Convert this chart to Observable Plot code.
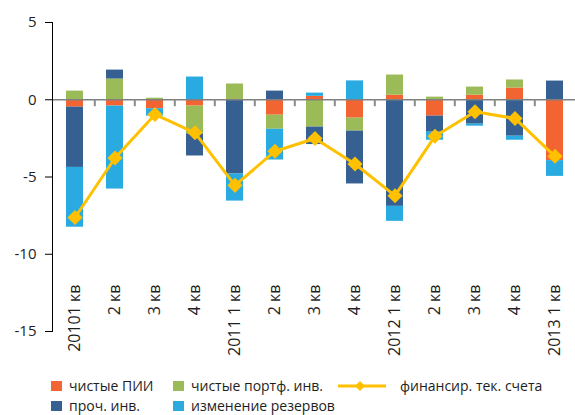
<!DOCTYPE html>
<html>
<head>
<meta charset="utf-8">
<script src="https://cdn.jsdelivr.net/npm/d3@7"></script>
<script src="https://cdn.jsdelivr.net/npm/@observablehq/plot@0.6"></script>
<style>
  html, body { margin: 0; padding: 0; background: #fff; }
  #wrap { width: 575px; height: 415px; position: relative; overflow: hidden; font-family: "Open Sans", sans-serif; color: #1e1e1e; }
  #chart svg { display: block; }
  #legend { position: relative; width: 575px; height: 45px; font-size: 14px; }
  .item { position: absolute; height: 14px; line-height: 14px; display: flex; align-items: center; white-space: nowrap; }
  .sw { display: inline-block; width: 11px; height: 10px; margin-right: 7px; }
</style>
</head>
<body>
<div id="wrap">
  <div id="chart"></div>
  <div id="legend"></div>
</div>
<script>
// ---- data ----
const quarters = ["2010Q1","2010Q2","2010Q3","2010Q4","2011Q1","2011Q2","2011Q3","2011Q4","2012Q1","2012Q2","2012Q3","2012Q4","2013Q1"];
const tickLabels = ["20101 кв","2 кв","3 кв","4 кв","2011 1 кв","2 кв","3 кв","4 кв","2012 1 кв","2 кв","3 кв","4 кв","2013 1 кв"];
const seriesNames = ["чистые ПИИ","чистые портф. инв.","проч. инв.","изменение резервов"];
const lineName = "финансир. тек. счета";
const fdi       = [-0.48, -0.41, -0.58, -0.41,  0.00, -1.00,  0.22, -1.19,  0.30, -1.06,  0.30,  0.76, -3.94];
const portfolio = [ 0.56,  1.34,  0.10, -1.80,  1.02, -0.91, -1.77, -0.84,  1.30,  0.17,  0.52,  0.52,  0.00];
const otherInv  = [-3.90,  0.58,  0.00, -1.43, -4.81,  0.56, -1.13, -3.42, -6.90, -1.04, -1.58, -2.36,  1.21];
const reserves  = [-3.87, -5.37, -0.48,  1.47, -1.75, -1.99,  0.21,  1.22, -0.97, -0.52, -0.13, -0.26, -1.02];
const financing = [-7.62, -3.77, -0.95, -2.14, -5.54, -3.33, -2.51, -4.16, -6.21, -2.36, -0.78, -1.21, -3.66];
const yTicks = [5, 0, -5, -10, -15];

// ---- styles ----
const colors = ["#F26532", "#9BBB59", "#366092", "#29ABE2"];
const lineColor = "#FFC000";

const seriesValues = [fdi, portfolio, otherInv, reserves];
const rows = [];
quarters.forEach((q, i) => {
  seriesNames.forEach((s, k) => rows.push({q, series: s, value: seriesValues[k][i]}));
});
const lineRows = quarters.map((q, i) => ({q, value: financing[i]}));
const labelOf = new Map(quarters.map((q, i) => [q, tickLabels[i]]));

const W = 575, H = 370, mL = 52, mR = -2;
const step = (W - mL - mR) / quarters.length;

const chart = Plot.plot({
  width: W,
  height: H,
  marginLeft: mL,
  marginRight: mR,
  marginTop: 22,
  marginBottom: 39,
  style: {fontFamily: "'Open Sans', sans-serif", color: "#1e1e1e", background: "#fff", overflow: "visible"},
  x: {domain: quarters, paddingInner: 0.58, paddingOuter: 0.29, axis: null},
  y: {domain: [-15, 5], axis: null},
  color: {domain: seriesNames, range: colors},
  marks: [
    Plot.barY(rows, {x: "q", y: "value", fill: "series"}),
    Plot.ruleY([0], {stroke: "#808080", strokeWidth: 1.6}),
    Plot.ruleX(quarters.slice(1), {x: d => d, y1: 0, y2: -0.45, dx: -step / 2, stroke: "#8a8a8a", strokeWidth: 2}),
    Plot.line(lineRows, {x: "q", y: "value", stroke: lineColor, strokeWidth: 3}),
    Plot.dot(lineRows, {x: "q", y: "value", symbol: "diamond2", r: 6.8, fill: lineColor, stroke: "none"}),
    Plot.frame({anchor: "left", stroke: "#000", strokeWidth: 1}),
    Plot.axisY({ticks: yTicks, tickSize: 7, tickPadding: 9, fontSize: 15, label: null, stroke: "#000",
                tickFormat: d => String(d)}),
    Plot.axisX({anchor: "bottom", tickSize: 0, tickPadding: 0, tickRotate: -90, dy: -47,
                tickFormat: d => labelOf.get(d), fontSize: 16, label: null})
  ]
});
document.getElementById("chart").appendChild(chart);

// ---- legend ----
const legend = document.getElementById("legend");
const legendPos = [
  {left: 51, top: 9},
  {left: 173, top: 9},
  {left: 51, top: 29},
  {left: 173, top: 29}
];
seriesNames.forEach((s, k) => {
  const p = legendPos[k];
  const div = document.createElement("div");
  div.className = "item";
  div.style.left = p.left + "px";
  div.style.top = p.top + "px";
  const sw = document.createElement("span");
  sw.className = "sw";
  sw.style.background = colors[k];
  div.appendChild(sw);
  div.appendChild(document.createTextNode(s));
  legend.appendChild(div);
});
const li = document.createElement("div");
li.className = "item";
li.style.left = "338px";
li.style.top = "9px";
li.innerHTML = `<svg width="48" height="14" style="margin-right:14px"><line x1="0" y1="7" x2="48" y2="7" stroke="${lineColor}" stroke-width="3"/><path d="M22,2 L27,7 L22,12 L17,7 Z" fill="${lineColor}"/></svg>`;
li.appendChild(document.createTextNode(lineName));
legend.appendChild(li);
</script>
</body>
</html>
